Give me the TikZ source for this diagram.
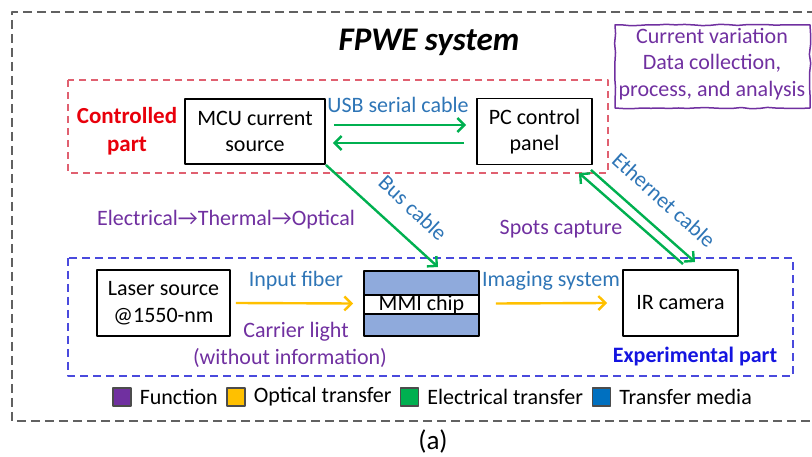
\documentclass[tikz,border=0pt]{standalone}
\usepackage{fontspec}
\setmainfont{Carlito}
\usetikzlibrary{arrows.meta}
\usetikzlibrary{calc}
\usetikzlibrary{positioning}
\usetikzlibrary{decorations.pathmorphing}

\definecolor{elecgreen}{HTML}{00B050}
\definecolor{optorange}{HTML}{FFC000}
\definecolor{funcpurple}{HTML}{7030A0}
\definecolor{mediablue}{HTML}{2E75B6}
\definecolor{keyblue}{HTML}{0070C0}
\definecolor{chipblue}{HTML}{8FAADC}
\definecolor{ctrlred}{HTML}{E8000B}
\definecolor{ctrlline}{HTML}{E06070}
\definecolor{expblue}{HTML}{1414E0}
\definecolor{expline}{HTML}{4A4ADD}

\tikzset{
  blk/.style={draw, line width=1.9pt, align=center, inner sep=0pt},
  elec/.style={elecgreen, line width=2.4pt},
  opt/.style={optorange, line width=2.4pt},
  media/.style={mediablue, inner sep=0pt},
  func/.style={funcpurple, inner sep=0pt, align=center},
  keysq/.style={draw=black!70, line width=1.2pt, minimum width=18pt, minimum height=18pt, inner sep=0pt},
  keytext/.style={inner sep=0pt, right=8pt of #1}
}

\begin{document}
\begin{tikzpicture}[x=1pt, y=-1pt, line join=round, >={Straight Barb[length=7pt,width=14pt]},
  font=\fontsize{22}{26.5}\selectfont]
\useasboundingbox (0,0) rectangle (812,457);

% frames
\draw[black!62, line width=1.7pt, dash pattern=on 9pt off 5pt] (830,12) -- (12,12) -- (12,421) -- (830,421);
\draw[ctrlline, line width=1.7pt, dash pattern=on 7pt off 5pt] (68,80) rectangle (608,173);
\draw[expline, line width=1.7pt, dash pattern=on 8pt off 5pt] (68,258) rectangle (793,376);
\draw[funcpurple, line width=1.5pt, decorate, decoration={random steps, segment length=9pt, amplitude=0.7pt}] (615,25) rectangle (810,108);

\node[font=\fontsize{33}{36}\selectfont\bfseries\itshape] (title) at (429,42) {FPWE system};
\node[func] (note) at (712,64) {Current variation\\Data collection,\\process, and analysis};

% controlled part
\node[ctrlred, align=center, inner sep=0pt, font=\fontsize{23}{28}\selectfont\bfseries] (ctrl) at (127,131) {Controlled\\part};
\node[blk, minimum width=140pt, minimum height=65pt] (mcu) at (255,131.5) {MCU current\\source};
\node[blk, minimum width=115pt, minimum height=66pt] (pc) at (534.5,131.5) {PC control\\panel};

\draw[elec, ->] ($(mcu.east)+(8,-6.5)$) -- ($(pc.west)+(-10,-6.5)$);
\draw[elec, ->] ($(pc.west)+(-12,11.5)$) -- ($(mcu.east)+(7,11.5)$);
\node[media] (usb) at (398,105) {USB serial cable};

% experimental part
\node[blk, minimum width=133pt, minimum height=66pt] (laser) at (163.5,303) {Laser source\\@1550-nm};
\node[blk, fill=chipblue, minimum width=115pt, minimum height=65pt] (mmi) at (421.5,303.5) {};
\node[blk, fill=white, minimum width=115pt, minimum height=19pt] (chip) at (421.5,304.5) {MMI chip};
\node[blk, minimum width=115pt, minimum height=66pt] (cam) at (680.5,303) {IR camera};
\node[expblue, inner sep=0pt, font=\fontsize{22}{26}\selectfont\bfseries] (exp) at (695,357) {Experimental part};

\draw[opt, ->] ($(laser.east)+(5,0)$) -- ($(mmi.west)+(-10,0)$);
\draw[opt, ->] ($(mmi.east)+(16,0)$) -- ($(cam.west)+(-15,0)$);
\node[media] (fiber) at (296,281) {Input fiber};
\node[func] (carrier) at (296,332) {Carrier light};
\node[func] (noinfo) at (290,358) {(without information)};
\node[media] (imaging) at (551,281) {Imaging system};

% cables between the parts
\draw[elec, ->] (mcu.south east) -- ($(mmi.north)+(16.5,-3)$);
\node[media, rotate=-43] (bus) at (413,208) {Bus cable};
\draw[elec, ->] ($(cam.north)+(2.5,-5)$) -- ($(pc.south east)+(-14,7.5)$);
\draw[elec, ->] ($(pc.south east)+(-2,4.5)$) -- ($(cam.north)+(14.5,-7)$);
\node[media, rotate=-42] (eth) at (664,200) {Ethernet cable};

\node[func] (conv) at (226,220) {Electrical→Thermal→Optical};
\node[func] (spots) at (561,229) {Spots capture};

% legend
\node[keysq, fill=funcpurple] (kfunc) at (122,397) {};
\node[keytext=kfunc] (tfunc) {Function};
\node[keysq, fill=optorange] (kopt) at (236,397) {};
\node[keytext=kopt] (topt) {Optical transfer};
\node[keysq, fill=elecgreen] (kelec) at (409.5,397) {};
\node[keytext=kelec] (telec) {Electrical transfer};
\node[keysq, fill=keyblue] (kmed) at (601.5,397) {};
\node[keytext=kmed] (tmed) {Transfer media};

\node[font=\fontsize{27}{30}\selectfont] (cap) at (433,441) {(a)};
\end{tikzpicture}
\end{document}
